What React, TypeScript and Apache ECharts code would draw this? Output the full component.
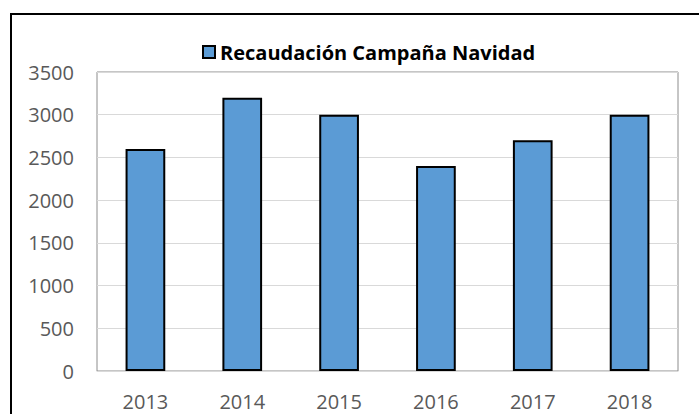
import React, { useEffect, useRef } from "react";
import * as echarts from "echarts";

const categories = ["2013", "2014", "2015", "2016", "2017", "2018"];
const values = [2600, 3200, 3000, 2400, 2700, 3000];
const seriesName = "Recaudación Campaña Navidad";
const yMin = 0;
const yMax = 3500;
const yInterval = 500;

export default function App() {
  const ref = useRef<HTMLDivElement>(null);
  useEffect(() => {
    if (!ref.current) return;
    const chart = echarts.init(ref.current, null, { renderer: "svg" });
    const font = "'Open Sans', sans-serif";
    chart.setOption({
      animation: false,
      backgroundColor: "#ffffff",
      textStyle: { fontFamily: font },
      graphic: [
        {
          type: "rect",
          shape: { x: 11, y: 14, width: 720, height: 430 },
          style: { fill: "none", stroke: "#000000", lineWidth: 2 },
          silent: true,
        },
      ],
      legend: {
        left: 197,
        top: 37,
        icon: "rect",
        itemWidth: 12,
        itemHeight: 12,
        itemGap: 10,
        textStyle: { fontFamily: font, fontSize: 20, fontWeight: "bold", color: "#000000" },
        data: [seriesName],
      },
      grid: {
        left: 97,
        right: 21,
        top: 72,
        bottom: 43,
        show: true,
        borderColor: "#8c8c8c",
        borderWidth: 1,
        containLabel: false,
        outerBoundsMode: "none",
      },
      xAxis: {
        type: "category",
        data: categories,
        axisLine: { show: true, lineStyle: { color: "#d9d9d9", width: 1 } },
        axisTick: { show: false },
        axisLabel: { color: "#595959", fontSize: 20, fontFamily: font, margin: 20 },
      },
      yAxis: {
        type: "value",
        min: yMin,
        max: yMax,
        interval: yInterval,
        axisLine: { show: false },
        axisTick: { show: false },
        splitLine: { lineStyle: { color: "#d9d9d9", width: 1 } },
        axisLabel: {
          color: "#595959",
          fontSize: 20,
          fontFamily: font,
          margin: 23,
          formatter: (v: number) => String(v),
        },
      },
      series: [
        {
          name: seriesName,
          type: "bar",
          data: values,
          barWidth: "41%",
          itemStyle: { color: "#5b9bd5", borderColor: "#000000", borderWidth: 2 },
        },
      ],
    });
    return () => chart.dispose();
  }, []);
  return (
    <div
      ref={ref}
      style={{ position: "fixed", left: 0, top: 0, width: 699, height: 414 }}
    />
  );
}
